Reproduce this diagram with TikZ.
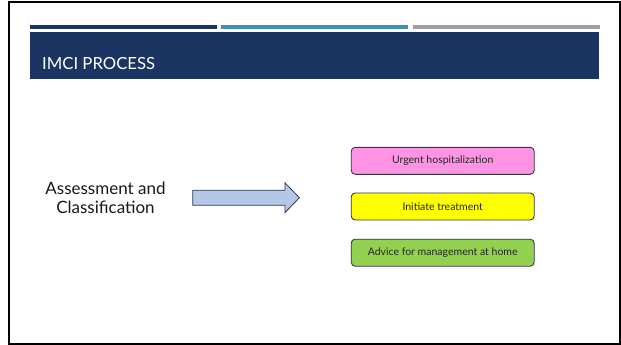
\documentclass[tikz,border=0pt]{standalone}
\usepackage{fontspec}
\setmainfont{Lato}
\usetikzlibrary{shapes.arrows}
\definecolor{navy}{HTML}{1C3461}
\definecolor{barblue}{HTML}{418FB6}
\definecolor{bargray}{HTML}{9BA0A7}
\definecolor{pinkbox}{HTML}{FF94E4}
\definecolor{yellowbox}{HTML}{FFFF00}
\definecolor{greenbox}{HTML}{92D050}
\definecolor{arrowfill}{HTML}{B4C7E7}
\definecolor{arrowline}{HTML}{2E3B55}
\definecolor{boxline}{HTML}{34344A}
\tikzset{
  x=1pt, y=-1pt,
  outcome/.style={draw=boxline, line width=0.9pt, rounded corners=4pt,
    minimum width=183pt, minimum height=27pt, inner sep=0pt,
    font=\fontsize{10.5}{12}\selectfont, text=black!85},
}
\begin{document}
\begin{tikzpicture}
\useasboundingbox (0,0) rectangle (621,345);
\fill[white] (0,0) rectangle (621,345);
% frame
\draw[black, line width=2pt] (9.3,2) rectangle (619.8,344);
% top bars
\fill[navy] (30,25) rectangle (217,29.5);
\fill[barblue] (220.5,25) rectangle (408,29.5);
\fill[bargray] (413,25) rectangle (600,29.5);
% header
\node[fill=navy, minimum width=569pt, minimum height=47pt, inner sep=0pt, anchor=north west] (header) at (30,32) {};
\node[anchor=base west, text=white, font=\fontsize{16.7}{19}\selectfont, inner sep=0pt] (title) at (42,69.3) {IMCI PROCESS};
% left text
\node[align=center, font=\fontsize{17}{19.5}\selectfont, inner sep=0pt, text=black!90] (assess) at (105.5,198) {Assessment and\\Classification};
% block arrow
\node[single arrow, draw=arrowline, fill=arrowfill, line width=0.8pt,
  minimum height=106.7pt, inner xsep=0pt, inner ysep=7.15pt, text width=0pt, text height=0pt, text depth=0pt,
  single arrow head extend=7.3pt, single arrow tip angle=92, anchor=tail] (arr) at (192.3,197.7) {};
% outcome boxes
\node[outcome, fill=pinkbox] (urgent) at (442.7,160.8) {Urgent hospitalization};
\node[outcome, fill=yellowbox] (initiate) at (442.7,206.5) {Initiate treatment};
\node[outcome, fill=greenbox] (advice) at (442.7,252.7) {Advice for management at home};
\end{tikzpicture}
\end{document}
